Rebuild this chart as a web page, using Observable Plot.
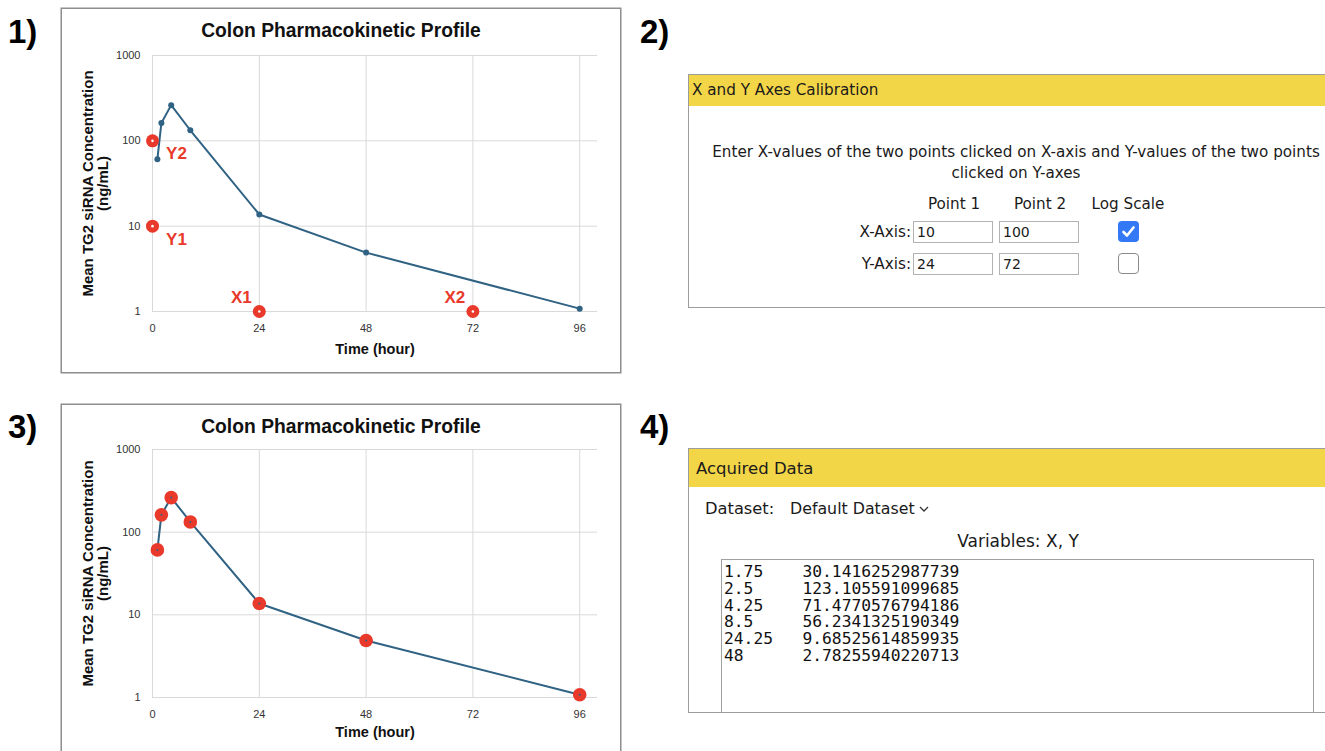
<!DOCTYPE html>
<html><head><meta charset="utf-8">
<script src="https://cdn.jsdelivr.net/npm/d3@7"></script>
<script src="https://cdn.jsdelivr.net/npm/@observablehq/plot@0.6"></script>
<style>
html,body{margin:0;padding:0;background:#fff;}
body{width:1325px;height:751px;overflow:hidden;position:relative;}
.abs{position:absolute;}
.num{position:absolute;font:bold 33px/33px "Liberation Sans",Arial,sans-serif;color:#000;}
.chart{position:absolute;box-shadow:0 0 0 1.5px #8e8e8e;background:#fff;}
.chart svg{display:block;}
.ui{font-family:"DejaVu Sans",Verdana,sans-serif;color:#1a1a1a;white-space:nowrap;}
.box{position:absolute;border:1px solid #9c9c9c;box-sizing:border-box;background:#fff;overflow:hidden;}
.hdr{position:absolute;background:#f3d548;}
.inp{position:absolute;box-sizing:border-box;border:1px solid #b3b3b3;background:#fff;font-size:14px;line-height:20px;padding-left:3px;}
.cb{position:absolute;box-sizing:border-box;border-radius:4px;}
</style>
</head><body>
<div class="num" style="left:8px;top:15px">1)</div>
<div class="num" style="left:640px;top:15px">2)</div>
<div class="num" style="left:8px;top:410px">3)</div>
<div class="num" style="left:640px;top:410px">4)</div>
<div id="c1" class="chart" style="left:62px;top:9px;width:558px;height:363px"></div>
<div id="c3" class="chart" style="left:62px;top:405px;width:558px;height:360px"></div>
<div id="p2"></div>
<div id="p4"></div>
<script>
// ---- data ----
const chartTitle = "Colon Pharmacokinetic Profile";
const yLabel = "Mean TG2 siRNA Concentration\n(ng/mL)";
const xLabel = "Time (hour)";
const times = [1.1, 2, 4.2, 8.5, 24, 48, 96];
const conc = [61, 162, 262, 133, 13.7, 4.9, 1.08];
const xTicks = [0, 24, 48, 72, 96];
const yTicks = [1, 10, 100, 1000];
const calibLabels = ["Y2", "Y1", "X1", "X2"];
const calibX = [0, 0, 24, 72];
const calibY = [100, 10, 1, 1];
const calibHeader = "X and Y Axes Calibration";
const calibText1 = "Enter X-values of the two points clicked on X-axis and Y-values of the two points";
const calibText2 = "clicked on Y-axes";
const calibCols = ["Point 1", "Point 2", "Log Scale"];
const calibRows = ["X-Axis:", "Y-Axis:"];
const calibInputs1 = ["10", "24"];
const calibInputs2 = ["100", "72"];
const calibLog = [true, false];
const acqHeader = "Acquired Data";
const acqDataset = "Default Dataset";
const acqVars = "Variables: X, Y";
const acqX = ["1.75", "2.5", "4.25", "8.5", "24.25", "48"];
const acqY = ["30.1416252987739", "123.105591099685", "71.4770576794186", "56.2341325190349", "9.68525614859935", "2.78255940220713"];

const LINE = "#2f6283", RED = "#e8392b";
const series = times.map((t, i) => ({t, c: conc[i]}));
const calib = calibLabels.map((label, i) => ({label, x: calibX[i], y: calibY[i]}));

function chart({height, mt, mb, titleDy, xlabDy, panel}) {
  const marks = [
    Plot.gridX({ticks: xTicks, stroke: "#d9d9d9", strokeOpacity: 1}),
    Plot.gridY({ticks: yTicks, stroke: "#d9d9d9", strokeOpacity: 1}),
    Plot.axisX({ticks: xTicks, tickSize: 0, tickPadding: 13, label: null}),
    Plot.axisY({ticks: yTicks, tickSize: 0, tickPadding: 12, tickFormat: d => String(d), label: null}),
    Plot.line(series, {x: "t", y: "c", stroke: LINE, strokeWidth: 2})
  ];
  if (panel === 1) {
    marks.push(
      Plot.dot(series, {x: "t", y: "c", r: 3, fill: LINE}),
      Plot.dot(calib, {x: "x", y: "y", r: 6.5, fill: RED}),
      Plot.dot(calib, {x: "x", y: "y", r: 1.3, fill: "#fff"}),
      Plot.text(calib.filter(d => d.label[0] === "Y"), {x: "x", y: "y", text: "label", dx: 24, dy: 13, fill: RED, fontWeight: "bold", fontSize: 17}),
      Plot.text(calib.filter(d => d.label[0] === "X"), {x: "x", y: "y", text: "label", dx: -18, dy: -14, fill: RED, fontWeight: "bold", fontSize: 17})
    );
  } else {
    marks.push(
      Plot.dot(series, {x: "t", y: "c", r: 6.8, fill: RED}),
      Plot.dot(series, {x: "t", y: "c", r: 1, fill: LINE})
    );
  }
  marks.push(
    Plot.text([chartTitle], {text: d => d, frameAnchor: "top", lineAnchor: "middle", textAnchor: "middle", dx: -34, dy: titleDy, fontSize: 19.3, fontWeight: "bold", fill: "#111"}),
    Plot.text([xLabel], {text: d => d, frameAnchor: "bottom", lineAnchor: "middle", textAnchor: "middle", dy: xlabDy, fontSize: 14.5, fontWeight: "bold", fill: "#111"}),
    Plot.text([yLabel], {text: d => d, frameAnchor: "left", textAnchor: "middle", lineAnchor: "middle", rotate: -90, dx: -56.5, fontSize: 15, fontWeight: "bold", lineHeight: 1.0, fill: "#111"})
  );
  return Plot.plot({
    width: 558, height,
    marginLeft: 90, marginRight: 23, marginTop: mt, marginBottom: mb,
    style: {fontFamily: "'Liberation Sans', Arial, sans-serif", fontSize: "11px", color: "#333", background: "transparent", overflow: "visible"},
    x: {domain: [0, 100]},
    y: {type: "log", domain: [1, 1000]},
    marks
  });
}
document.getElementById("c1").append(chart({height: 363, mt: 46, mb: 61, titleDy: -25, xlabDy: 38, panel: 1}));
document.getElementById("c3").append(chart({height: 346, mt: 44, mb: 54, titleDy: -23, xlabDy: 35, panel: 3}));

// ---- panel 2 (calibration form) ----
function el(parent, cls, style, text) {
  const d = document.createElement("div");
  d.className = cls; d.style.cssText = style;
  if (text != null) d.textContent = text;
  parent.append(d); return d;
}
const F2 = "15.2px";
const p2 = document.getElementById("p2");
el(p2, "box", "left:688px;top:74px;width:660px;height:234px;");
el(p2, "hdr ui", `left:689px;top:75px;width:660px;height:31px;line-height:31px;font-size:${F2};padding-left:3px;`, calibHeader);
el(p2, "abs ui", `left:688px;width:656px;top:142px;line-height:20px;font-size:${F2};text-align:center;`, calibText1);
el(p2, "abs ui", `left:688px;width:656px;top:163px;line-height:20px;font-size:${F2};text-align:center;`, calibText2);
const colCenters = [954, 1040, 1128];
calibCols.forEach((c, i) => el(p2, "abs ui", `left:${colCenters[i] - 60}px;width:120px;top:194px;line-height:20px;font-size:${F2};text-align:center;`, c));
const rowTops = [221, 253];
const check = '<svg width="21" height="21" viewBox="0 0 21 21"><path d="M5.5 11 L9 14.5 L15.5 6.5" fill="none" stroke="#fff" stroke-width="2.6" stroke-linecap="round" stroke-linejoin="round"/></svg>';
calibRows.forEach((r, i) => {
  const t = rowTops[i];
  el(p2, "abs ui", `left:791px;width:120px;top:${t + 1}px;line-height:20px;font-size:${F2};text-align:right;`, r);
  el(p2, "inp ui", `left:913px;top:${t}px;width:80px;height:22px;`, calibInputs1[i]);
  el(p2, "inp ui", `left:999px;top:${t}px;width:80px;height:22px;`, calibInputs2[i]);
  const cb = el(p2, "cb", `left:1118px;top:${t}px;width:21px;height:21px;` + (calibLog[i] ? "background:#3379f5;" : "border:1px solid #8a8a8a;background:#fff;"));
  if (calibLog[i]) cb.innerHTML = check;
});

// ---- panel 4 (acquired data) ----
const p4 = document.getElementById("p4");
el(p4, "box", "left:688px;top:448px;width:660px;height:265px;");
el(p4, "hdr ui", "left:689px;top:449px;width:660px;height:38px;line-height:39px;font-size:16.5px;padding-left:7px;", acqHeader);
el(p4, "abs ui", "left:705px;top:499px;line-height:20px;font-size:16.3px;", "Dataset:");
const ds = el(p4, "abs ui", "left:790px;top:499px;line-height:20px;font-size:15.8px;", acqDataset);
ds.insertAdjacentHTML("beforeend", '<svg width="14" height="8" viewBox="0 0 14 8" style="vertical-align:1px"><path d="M5 2 L9 6 L13 2" fill="none" stroke="#333" stroke-width="1.3"/></svg>');
el(p4, "abs ui", "left:688px;width:660px;top:531px;line-height:20px;font-size:17px;text-align:center;", acqVars);
const ta = el(p4, "abs", "left:721px;top:559px;width:593px;height:153px;box-sizing:border-box;border:1px solid #a0a0a0;border-bottom:none;background:#fff;");
const pre = document.createElement("pre");
pre.style.cssText = "margin:0;padding:4px 0 0 2px;font:16.3px/16.8px 'DejaVu Sans Mono',monospace;color:#111;tab-size:8;-moz-tab-size:8;";
pre.textContent = acqX.map((x, i) => x + "\t" + acqY[i]).join("\n");
ta.append(pre);
</script>
</body></html>
